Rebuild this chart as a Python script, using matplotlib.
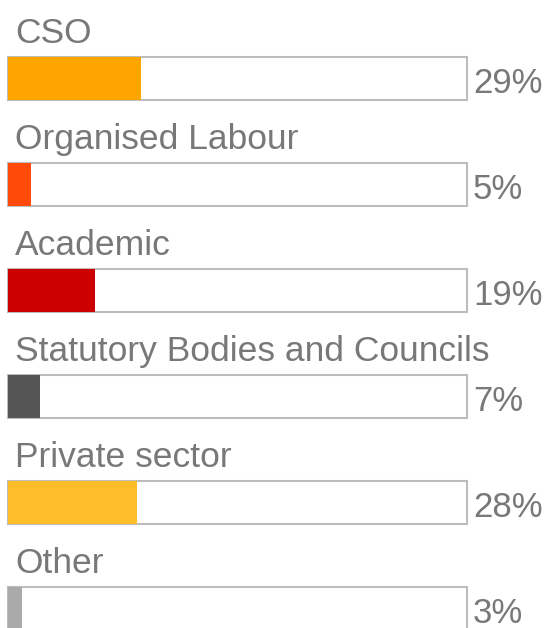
import matplotlib
matplotlib.use("Agg")
from matplotlib import pyplot as plt

categories = ["CSO", "Organised Labour", "Academic",
              "Statutory Bodies and Councils", "Private sector", "Other"]
shares = [29, 5, 19, 7, 28, 3]
colors = ["#FFA500", "#FF4A0A", "#CC0000", "#555555", "#FDBE2A", "#AAAAAA"]

W, H = 545, 628
fig = plt.figure(figsize=(W / 100, H / 100), dpi=100)

# bar track runs from x=8px to x=467px, rows are 106px apart
left_px, right_px = 8, 467
row_px = 106
first_center_px = 78.5
ax = fig.add_axes([left_px / W, 0, (right_px - left_px) / W, 1])
ax.set_xlim(0, 100)
ax.set_ylim((H - first_center_px) / row_px, -first_center_px / row_px)
ax.axis("off")

bar_h = 43 / row_px
ys = list(range(len(categories)))
ax.barh(ys, [100] * len(ys), height=bar_h, color="white",
        edgecolor="#BDBDBD", linewidth=1.5, clip_on=False)
ax.barh(ys, shares, height=bar_h, color=colors, linewidth=0, clip_on=False)

txt = dict(color="#787878", family="Liberation Sans")
for y, name, v in zip(ys, categories, shares):
    ax.text(1.5, y - 0.335, name, va="baseline", ha="left", fontsize=25.5,
            clip_on=False, **txt)
    ax.text(101.3, y + 0.137, f"{v}%", va="baseline", ha="left", fontsize=25,
            clip_on=False, **txt)

fig.savefig("out.png", dpi=100)
